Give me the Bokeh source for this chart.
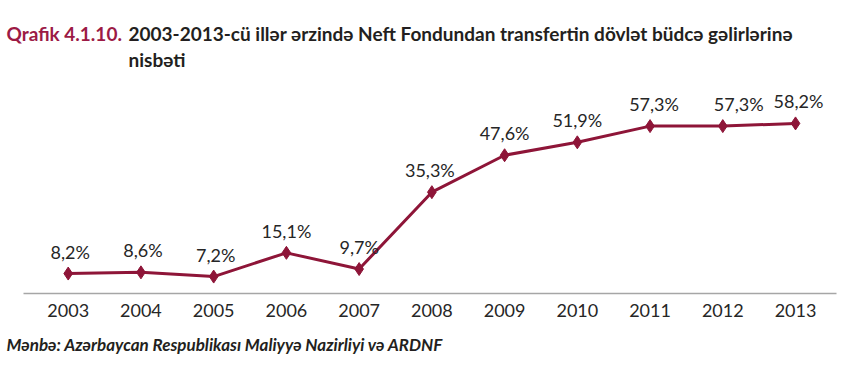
from bokeh.plotting import figure
from bokeh.models import Label, FixedTicker, Range1d, Title
from bokeh.core.properties import value
from bokeh.embed import file_html
from bokeh.resources import INLINE

years = [2003, 2004, 2005, 2006, 2007, 2008, 2009, 2010, 2011, 2012, 2013]
shares = [8.2, 8.6, 7.2, 15.1, 9.7, 35.3, 47.6, 51.9, 57.3, 57.3, 58.2]
share_labels = [f"{v:.1f}".replace(".", ",") + "%" for v in shares]

title_prefix = "Qrafik 4.1.10."
title_line1 = "2003-2013-cü illər ərzində Neft Fondundan transfertin dövlət büdcə gəlirlərinə"
title_line2 = "nisbəti"
source_text = "Mənbə: Azərbaycan Respublikası Maliyyə Nazirliyi və ARDNF"

LINE = "#8e1538"
FONT = "Lato"

W, H = 854, 378
FRAME_BOTTOM = 293          # pixel row of the axis line
x0, x1 = 2002.069, 2013.811  # frame spans the full width
y0, y1 = 1.56, 99.13         # frame spans from top to axis line

p = figure(width=W, height=H, output_backend="svg", toolbar_location=None,
           x_range=Range1d(x0, x1), y_range=Range1d(y0, y1),
           y_axis_location=None,
           min_border_left=0, min_border_right=0,
           min_border_top=0, min_border_bottom=H - FRAME_BOTTOM)
p.outline_line_color = None
p.grid.visible = False
p.background_fill_color = "white"
p.border_fill_color = "white"

ax = p.xaxis[0]
ax.ticker = FixedTicker(ticks=years)
ax.bounds = (2002.39, 2013.564)
ax.axis_line_color = "#a6a6a6"
ax.axis_line_width = 1.5
ax.major_tick_line_color = None
ax.minor_tick_line_color = None
ax.major_label_text_font = FONT
ax.major_label_text_font_size = "18px"
ax.major_label_text_color = "#262626"
ax.major_label_standoff = 4

p.line(years, shares, line_color=LINE, line_width=3)
p.scatter(years, shares, marker="diamond", size=13, fill_color=LINE, line_color=LINE)

dx = [2, 2, 2, 0, 0, -2, 0, 0, 4, 16, 3]
src = dict(x=years, y=shares, t=share_labels, dx=dx)
p.text(x="x", y="y", text="t", x_offset="dx", source=src, y_offset=-11,
       text_align="center", text_baseline="bottom",
       text_font=value(FONT), text_font_size="18px", text_color="#262626")

fh = FRAME_BOTTOM
def px_x(px):
    return x0 + px / W * (x1 - x0)
def px_y(py):
    return y0 + (fh - py) / fh * (y1 - y0)

p.add_layout(Label(x=px_x(6), y=px_y(33), text=title_prefix, text_font=FONT,
                   text_font_style="bold", text_font_size="19px", text_color="#9c1a45",
                   text_baseline="middle"))
p.add_layout(Label(x=px_x(128), y=px_y(33), text=title_line1, text_font=FONT,
                   text_font_style="bold", text_font_size="19px", text_color="#231f20",
                   text_baseline="middle"))
p.add_layout(Label(x=px_x(128), y=px_y(59), text=title_line2, text_font=FONT,
                   text_font_style="bold", text_font_size="19px", text_color="#231f20",
                   text_baseline="middle"))
p.add_layout(Title(text=source_text, text_font=FONT, text_font_style="bold italic",
                   text_font_size="17px", text_color="#231f20", offset=6,
                   standoff=24), "below")

open("out.html", "w").write(file_html(p, INLINE))
